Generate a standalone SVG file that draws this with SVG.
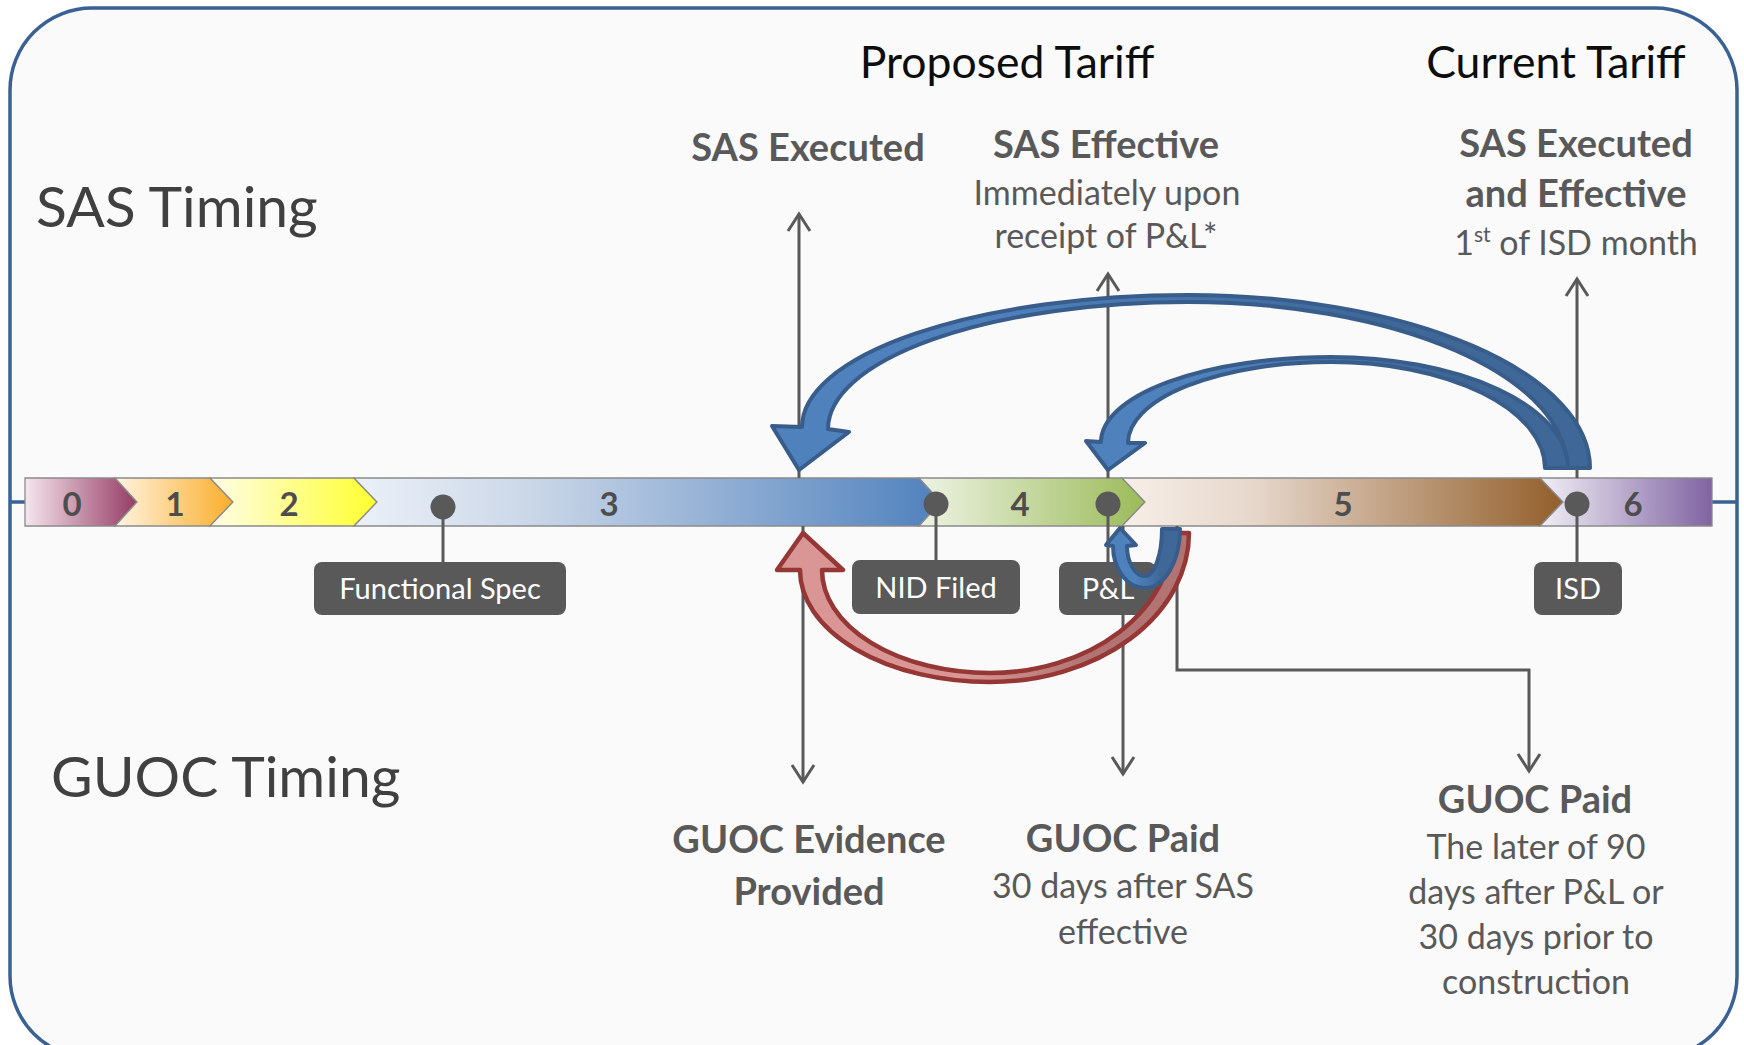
<svg xmlns="http://www.w3.org/2000/svg" width="1744" height="1045" viewBox="0 0 1744 1045">
  <defs>
    <style>
      .frame { fill: #FAFAFA; stroke: #3A6194; stroke-width: 3.5; }
      .rail { stroke: #3A6194; stroke-width: 3.5; fill: none; }
      .seg { stroke: #8A8A8A; stroke-width: 1.3; }
      .digit { font-family: Lato, "Open Sans", sans-serif; font-weight: bold; font-size: 33px; fill: #4D4D4D; text-anchor: middle; }
      .dot { fill: #595959; }
      .stem { stroke: #595959; stroke-width: 3; fill: none; }
      .tag { fill: #595959; }
      .tagtext { font-family: Lato, "Open Sans", sans-serif; font-size: 29px; fill: #FFFFFF; text-anchor: middle; }
      .lead { stroke: #595959; stroke-width: 3; fill: none; }
      .arrowed { marker-end: url(#vhead); }
      .section { font-family: Lato, "Open Sans", sans-serif; font-size: 57px; fill: #404040; }
      .tariff { font-family: Lato, "Open Sans", sans-serif; font-size: 44.5px; fill: #0D0D0D; text-anchor: middle; }
      .head { font-family: Lato, "Open Sans", sans-serif; font-weight: bold; font-size: 38px; fill: #595959; text-anchor: middle; }
      .note { font-family: Lato, "Open Sans", sans-serif; font-size: 34px; fill: #595959; text-anchor: middle; }
      .blue { stroke: #385D8A; stroke-width: 4; stroke-linejoin: round; }
      .red { stroke: #953735; stroke-width: 4.5; stroke-linejoin: round; }
    </style>
    <marker id="vhead" viewBox="-20 -14 24 28" refX="0" refY="0" markerWidth="24" markerHeight="28" markerUnits="userSpaceOnUse" orient="auto">
      <path d="M-17,-11 L0,0 L-17,11" fill="none" stroke="#595959" stroke-width="3" stroke-linejoin="miter"/>
    </marker>
    <linearGradient id="g0" x1="0" y1="0" x2="1" y2="0"><stop offset="0" stop-color="#F5E6ED"/><stop offset="1" stop-color="#953B64"/></linearGradient>
    <linearGradient id="g1" x1="0" y1="0" x2="1" y2="0"><stop offset="0" stop-color="#FFF4E2"/><stop offset="1" stop-color="#FAAE2A"/></linearGradient>
    <linearGradient id="g2" x1="0" y1="0" x2="1" y2="0"><stop offset="0" stop-color="#FFFDE6"/><stop offset="1" stop-color="#FFFF2E"/></linearGradient>
    <linearGradient id="g3" x1="0" y1="0" x2="1" y2="0"><stop offset="0" stop-color="#ECF1F8"/><stop offset="0.3" stop-color="#CBD7E8"/><stop offset="1" stop-color="#4F81BD"/></linearGradient>
    <linearGradient id="g4" x1="0" y1="0" x2="1" y2="0"><stop offset="0" stop-color="#EEF3E4"/><stop offset="1" stop-color="#9BBB59"/></linearGradient>
    <linearGradient id="g5" x1="0" y1="0" x2="1" y2="0"><stop offset="0" stop-color="#F7EFE8"/><stop offset="0.3" stop-color="#E6D7CB"/><stop offset="1" stop-color="#935F2C"/></linearGradient>
    <linearGradient id="g6" x1="0" y1="0" x2="1" y2="0"><stop offset="0" stop-color="#F1EFF5"/><stop offset="1" stop-color="#8064A2"/></linearGradient>
    <linearGradient id="bigBlue" gradientUnits="userSpaceOnUse" x1="980" y1="0" x2="1380" y2="0"><stop offset="0" stop-color="#4F81BD"/><stop offset="1" stop-color="#3F6899"/></linearGradient>
    <linearGradient id="smallBlue" gradientUnits="userSpaceOnUse" x1="1230" y1="0" x2="1450" y2="0"><stop offset="0" stop-color="#4F81BD"/><stop offset="1" stop-color="#3F6899"/></linearGradient>
    <linearGradient id="hookBlue" gradientUnits="userSpaceOnUse" x1="1135" y1="0" x2="1160" y2="0"><stop offset="0" stop-color="#4F81BD"/><stop offset="1" stop-color="#3F6899"/></linearGradient>
    <linearGradient id="loopRed" gradientUnits="userSpaceOnUse" x1="960" y1="0" x2="1090" y2="0"><stop offset="0" stop-color="#D99694"/><stop offset="1" stop-color="#B27473"/></linearGradient>
  </defs>

  <rect width="1744" height="1045" fill="#FFFFFF"/>
  <!-- outer frame, bottom edge runs past the canvas -->
  <rect class="frame" x="10" y="8" width="1727" height="1050" rx="82" ry="82"/>

  <!-- rail stubs joining the frame to the timeline -->
  <path class="rail" d="M10,502 H25 M1712,502 H1737"/>

  <!-- timeline phases -->
  <g id="phase-0"><path class="seg" fill="url(#g0)" d="M25,478 H115 L137,502 L115,526 H25 Z"/><text class="digit" x="72" y="516">0</text></g>
  <g id="phase-1"><path class="seg" fill="url(#g1)" d="M115,478 H210 L233,502 L210,526 H115 L137,502 Z"/><text class="digit" x="175" y="516">1</text></g>
  <g id="phase-2"><path class="seg" fill="url(#g2)" d="M210,478 H354 L377,502 L354,526 H210 L233,502 Z"/><text class="digit" x="289" y="516">2</text></g>
  <g id="phase-3"><path class="seg" fill="url(#g3)" d="M354,478 H919 L941,502 L919,526 H354 L377,502 Z"/><text class="digit" x="609" y="516">3</text></g>
  <g id="phase-4"><path class="seg" fill="url(#g4)" d="M919,478 H1122 L1145,502 L1122,526 H919 L941,502 Z"/><text class="digit" x="1020" y="516">4</text></g>
  <g id="phase-5"><path class="seg" fill="url(#g5)" d="M1122,478 H1540 L1563,502 L1540,526 H1122 L1145,502 Z"/><text class="digit" x="1343" y="516">5</text></g>
  <g id="phase-6"><path class="seg" fill="url(#g6)" d="M1540,478 H1712 V526 H1540 L1563,502 Z"/><text class="digit" x="1633" y="516">6</text></g>

  <!-- milestones on the timeline -->
  <g id="milestone-functional-spec">
    <line class="stem" x1="443" y1="507" x2="443" y2="562"/>
    <circle class="dot" cx="443" cy="507" r="12.5"/>
    <rect class="tag" x="314" y="562" width="252" height="53" rx="8"/>
    <text class="tagtext" x="440" y="599">Functional Spec</text>
  </g>
  <g id="milestone-nid-filed">
    <line class="stem" x1="936" y1="504" x2="936" y2="560"/>
    <circle class="dot" cx="936" cy="504" r="12.5"/>
    <rect class="tag" x="852" y="560" width="168" height="54" rx="8"/>
    <text class="tagtext" x="936" y="598">NID Filed</text>
  </g>
  <g id="milestone-pl">
    <line class="stem" x1="1108" y1="504" x2="1108" y2="562"/>
    <circle class="dot" cx="1108" cy="504" r="12.5"/>
    <rect class="tag" x="1059" y="562" width="97" height="53" rx="8"/>
    <text class="tagtext" x="1108" y="599">P&amp;L</text>
  </g>
  <g id="milestone-isd">
    <line class="stem" x1="1577" y1="504" x2="1577" y2="562"/>
    <circle class="dot" cx="1577" cy="504" r="12.5"/>
    <rect class="tag" x="1534" y="562" width="88" height="53" rx="8"/>
    <text class="tagtext" x="1578" y="599">ISD</text>
  </g>

  <!-- captions -->
  <g id="caption-sas-timing"><text class="section" x="36" y="227">SAS Timing</text></g>
  <g id="caption-guoc-timing"><text class="section" x="51" y="797">GUOC Timing</text></g>
  <g id="caption-proposed"><text class="tariff" x="1007" y="78">Proposed Tariff</text></g>
  <g id="caption-current"><text class="tariff" x="1556" y="78">Current Tariff</text></g>

  <g id="event-sas-executed"><text class="head" x="808" y="161">SAS Executed</text></g>
  <g id="event-sas-effective">
    <text class="head" x="1106" y="158">SAS Effective</text>
    <text class="note" x="1107" y="205">Immediately upon</text>
    <text class="note" x="1106" y="248">receipt of P&amp;L*</text>
  </g>
  <g id="event-sas-current">
    <text class="head" x="1576" y="157">SAS Executed</text>
    <text class="head" x="1576" y="207">and Effective</text>
    <text class="note" x="1576" y="255">1<tspan font-size="21" dy="-13">st</tspan><tspan dy="13"> of ISD month</tspan></text>
  </g>
  <g id="event-guoc-evidence">
    <text class="head" x="809" y="853">GUOC Evidence</text>
    <text class="head" x="809" y="905">Provided</text>
  </g>
  <g id="event-guoc-paid-proposed">
    <text class="head" x="1123" y="852">GUOC Paid</text>
    <text class="note" x="1123" y="898">30 days after SAS</text>
    <text class="note" x="1123" y="944">effective</text>
  </g>
  <g id="event-guoc-paid-current">
    <text class="head" x="1535" y="813">GUOC Paid</text>
    <text class="note" x="1536" y="859">The later of 90</text>
    <text class="note" x="1536" y="904">days after P&amp;L or</text>
    <text class="note" x="1536" y="949">30 days prior to</text>
    <text class="note" x="1536" y="994">construction</text>
  </g>

  <!-- connectors -->
  <g id="connectors">
    <line class="lead arrowed" x1="799" y1="478" x2="799" y2="214"/>
    <line class="lead arrowed" x1="1108" y1="478" x2="1108" y2="274"/>
    <line class="lead arrowed" x1="1577" y1="478" x2="1577" y2="279"/>
    <line class="lead arrowed" x1="803" y1="526" x2="803" y2="782"/>
    <line class="lead arrowed" x1="1123" y1="615" x2="1123" y2="774"/>
    <line class="lead" x1="1123" y1="526" x2="1123" y2="562"/>
    <path class="lead arrowed" d="M1177,526 V670 H1529 V771"/>

    <!-- ISD back to SAS executed -->
    <path class="blue" fill="url(#bigBlue)" d="M1590,468 A402,173 0 0 0 1188,295 A386,132 0 0 0 802,427 L772,426 L799,470 L849,432 L828,429 A360,127 0 0 1 1188,302 A379,166 0 0 1 1567,468 Z"/>
    <!-- ISD back to SAS effective -->
    <path class="blue" fill="url(#smallBlue)" d="M1568,468 A237,111 0 0 0 1331,357 A230,85 0 0 0 1101,442 L1086,441 L1108,470 L1145,443 L1128,443 A203,81 0 0 1 1331,362 A214,106 0 0 1 1545,468 Z"/>
    <!-- P&L back to GUOC evidence -->
    <path class="red" fill="url(#loopRed)" d="M1189,533 A199,149 0 0 1 990,682 A190,112 0 0 1 800,570 L777,570 L803,533 L843,570 L822,570 A168,103 0 0 0 990,673 A183,140 0 0 0 1173,533 Z"/>
    <!-- short hook back to P&L -->
    <path class="blue" fill="url(#hookBlue)" d="M1180,529 A35,59 0 0 1 1145,588 A32,42 0 0 1 1113,546 L1106,545 L1120,528 L1136,545 L1127,546 A18,30 0 0 0 1145,576 A17,47 0 0 0 1162,529 Z"/>
  </g>
</svg>
